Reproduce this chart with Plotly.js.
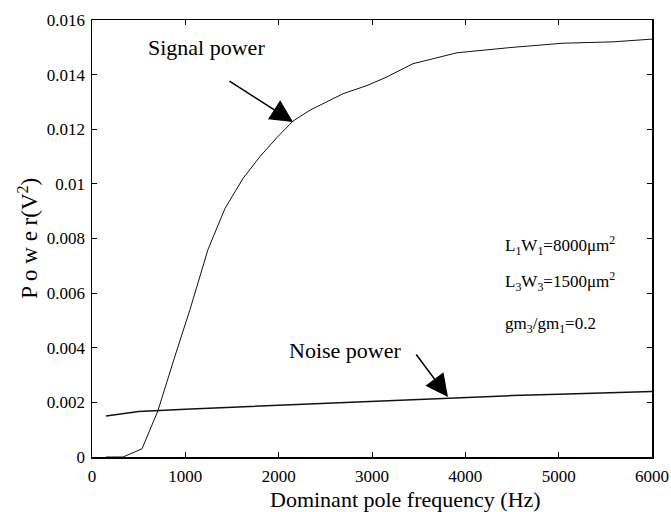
<!DOCTYPE html>
<html>
<head>
<meta charset="utf-8">
<script src="https://cdn.plot.ly/plotly-3.0.1.min.js"></script>
<style>
  html, body { margin: 0; padding: 0; background: #fff; }
  #chart { width: 671px; height: 512px; }
</style>
</head>
<body>
<div id="chart"></div>
<script>
// Dominant pole frequency (Hz)
const signalFreq = [150, 333, 536, 707, 880, 1050, 1243, 1425, 1618, 1800, 1982, 2154, 2336, 2518, 2689, 2946, 3150, 3439, 3911, 4511, 5046, 5582, 6000];
// Signal power (V^2)
const signalPower = [0, 0, 0.0003, 0.0017, 0.0036, 0.0054, 0.0076, 0.0091, 0.0102, 0.0110, 0.0117, 0.0123, 0.0127, 0.0130, 0.0133, 0.0136, 0.0139, 0.0144, 0.0148, 0.0150, 0.01515, 0.0152, 0.0153];

const noiseFreq = [150, 500, 1000, 1500, 2000, 2500, 3000, 3500, 4000, 4500, 5000, 5500, 6000];
// Noise power (V^2)
const noisePower = [0.0015, 0.00167, 0.00175, 0.00182, 0.00189, 0.00197, 0.00205, 0.00212, 0.00219, 0.00225, 0.0023, 0.00235, 0.0024];

const xTicks = [0, 1000, 2000, 3000, 4000, 5000, 6000];
const xTickText = ['0', '1000', '2000', '3000', '4000', '5000', '6000'];
const yTicks = [0, 0.002, 0.004, 0.006, 0.008, 0.01, 0.012, 0.014, 0.016];
const yTickText = ['0', '0.002', '0.004', '0.006', '0.008', '0.01', '0.012', '0.014', '0.016'];

const serif = '"Liberation Serif", "Times New Roman", serif';

const traces = [
  {
    x: signalFreq, y: signalPower, type: 'scatter', mode: 'lines',
    line: { color: '#111', width: 1 }, hoverinfo: 'skip'
  },
  {
    x: noiseFreq, y: noisePower, type: 'scatter', mode: 'lines',
    line: { color: '#111', width: 1.5 }, hoverinfo: 'skip'
  }
];

const axisCommon = {
  showline: true, linecolor: '#000', linewidth: 1.5, mirror: 'ticks',
  ticks: 'inside', ticklen: 5, tickwidth: 1, tickcolor: '#000',
  showgrid: false, zeroline: false,
  tickfont: { family: serif, size: 17, color: '#000' }
};

const layout = {
  width: 671, height: 512,
  margin: { l: 92, r: 19, t: 20, b: 55 },
  paper_bgcolor: '#fff', plot_bgcolor: '#fff',
  showlegend: false,
  font: { family: serif, color: '#000' },
  xaxis: Object.assign({}, axisCommon, {
    range: [0, 6000], tickvals: xTicks, ticktext: xTickText, ticklabelstandoff: 3
  }),
  yaxis: Object.assign({}, axisCommon, {
    range: [0, 0.016], tickvals: yTicks, ticktext: yTickText, ticklabelstandoff: 2
  }),
  annotations: [
    {
      xref: 'paper', yref: 'paper', x: 0.559, y: -0.098, yanchor: 'middle', xanchor: 'center',
      text: 'Dominant pole frequency (Hz)', showarrow: false,
      font: { family: serif, size: 22 }
    },
    {
      xref: 'paper', yref: 'paper', x: -0.114, y: 0.5, xanchor: 'center', yanchor: 'middle',
      text: 'P o w e r(V<sup>2</sup>)', textangle: -90, showarrow: false,
      font: { family: serif, size: 23 }
    },
    {
      x: 1232, y: 0.0150, text: 'Signal power', showarrow: false,
      font: { family: serif, size: 22 }
    },
    {
      x: 2154, y: 0.01227, ax: 1457, ay: 0.0138, axref: 'x', ayref: 'y',
      text: '', showarrow: true, arrowhead: 2, arrowsize: 3, arrowwidth: 1.5, arrowcolor: '#000'
    },
    {
      x: 2711, y: 0.0039, text: 'Noise power', showarrow: false,
      font: { family: serif, size: 22 }
    },
    {
      x: 3814, y: 0.0022, ax: 3461, ay: 0.00381, axref: 'x', ayref: 'y',
      text: '', showarrow: true, arrowhead: 2, arrowsize: 3, arrowwidth: 1.5, arrowcolor: '#000'
    },
    {
      x: 4404, y: 0.00776, xanchor: 'left', showarrow: false,
      text: 'L<sub>1</sub>W<sub>1</sub>=8000μm<sup>2</sup>',
      font: { family: serif, size: 17 }
    },
    {
      x: 4404, y: 0.00641, xanchor: 'left', showarrow: false,
      text: 'L<sub>3</sub>W<sub>3</sub>=1500μm<sup>2</sup>',
      font: { family: serif, size: 17 }
    },
    {
      x: 4404, y: 0.00483, xanchor: 'left', showarrow: false,
      text: 'gm<sub>3</sub>/gm<sub>1</sub>=0.2',
      font: { family: serif, size: 17 }
    }
  ]
};

Plotly.newPlot('chart', traces, layout, { staticPlot: true, displayModeBar: false });
</script>
</body>
</html>
